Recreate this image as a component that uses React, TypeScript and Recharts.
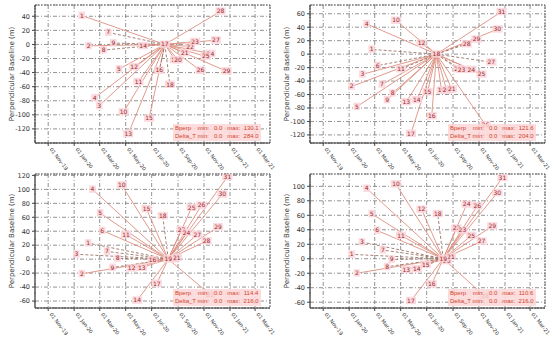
import React from "react";
import { ComposedChart, Scatter, XAxis, YAxis, CartesianGrid, ReferenceArea } from "recharts";

const xTickDates = ["2019-11-01", "2020-01-01", "2020-03-01", "2020-05-01", "2020-07-01", "2020-09-01", "2020-11-01", "2021-01-01", "2021-03-01"];
const xStart = "2019-10-01";
const xEnd = "2021-04-05";
const months = ["Jan", "Feb", "Mar", "Apr", "May", "Jun", "Jul", "Aug", "Sep", "Oct", "Nov", "Dec"];

// panel 1 (top left)
const p1Master = "2020-08-01";
const p1MasterLabel = "17";
const p1Dates = ["2020-01-19", "2020-03-21", "2020-04-02", "2020-02-04", "2020-03-10", "2020-06-11", "2020-04-15", "2020-05-21", "2020-05-31", "2020-02-18", "2020-02-29", "2020-04-26", "2020-05-07", "2020-06-25", "2020-07-19", "2020-08-13", "2020-08-25", "2020-09-01", "2020-09-17", "2020-09-29", "2020-10-11", "2020-11-29", "2020-11-16", "2020-11-05", "2020-10-24", "2020-12-24", "2020-12-10"];
const p1Bperp = [41, 17, 2, -2, -8, -2, -35, -32, -53, -76, -87, -96, -127, -105, -37, -57, -22, -22, -12, -3, 4, 6, -13, -17, -37, -38, 47];
const p1Labels = ["1", "7", "9", "2", "8", "14", "5", "12", "11", "4", "3", "10", "13", "15", "16", "18", "19", "20", "21", "22", "23", "27", "24", "25", "26", "29", "28"];
const p1YTicks = [40, 20, 0, -20, -40, -60, -80, -100, -120];
const p1Stats = ["Bperp    min:   0.0   max:  130.1", "Delta_T min:   0.0   max:  284.0"];

// panel 2 (top right)
const p2Master = "2020-07-24";
const p2MasterLabel = "18";
const p2Dates = ["2020-02-23", "2020-02-11", "2020-04-20", "2020-06-19", "2020-03-08", "2020-02-01", "2020-01-07", "2020-05-02", "2020-03-18", "2020-04-12", "2020-03-30", "2020-01-19", "2020-05-14", "2020-06-08", "2020-07-03", "2020-07-13", "2020-05-25", "2020-08-05", "2020-08-17", "2020-08-29", "2020-09-13", "2020-09-21", "2020-10-14", "2020-11-07", "2020-11-30", "2020-11-16", "2020-10-03", "2020-10-26", "2020-12-14", "2020-12-24"];
const p2Bperp = [7, 45, 50, 16, -17, -30, -48, -22, -45, -58, -68, -78, -71, -68, -56, -92, -118, -54, -54, -52, -22, -23, -23, -30, -12, -105, 15, 22, 37, 63];
const p2Labels = ["1", "4", "10", "12", "6", "3", "2", "11", "7", "8", "9", "5", "13", "14", "15", "16", "17", "19", "20", "21", "22", "23", "24", "25", "27", "26", "28", "29", "30", "31"];
const p2YTicks = [60, 40, 20, 0, -20, -40, -60, -80, -100, -120];
const p2Stats = ["Bperp    min:   0.0   max:  121.6", "Delta_T min:   0.0   max:  204.0"];

// panel 3 (bottom left)
const p3Master = "2020-08-09";
const p3MasterLabel = "19";
const p3Dates = ["2020-02-03", "2020-01-06", "2020-02-13", "2020-03-02", "2020-03-07", "2020-03-18", "2020-04-12", "2020-01-19", "2020-03-31", "2020-04-22", "2020-05-02", "2020-05-15", "2020-06-08", "2020-05-28", "2020-06-19", "2020-07-03", "2020-07-13", "2020-07-27", "2020-08-21", "2020-08-29", "2020-09-09", "2020-09-21", "2020-10-03", "2020-10-26", "2020-10-16", "2020-11-07", "2020-12-04", "2020-12-14", "2020-12-26", "2020-11-16"];
const p3Bperp = [23, 7, 100, 66, 41, 11, 1, -21, -12, 106, 35, -13, -12, -59, 72, -1, -35, 62, 0, 2, 42, 38, 74, 77, 35, 26, 46, 93, 118, -51];
const p3Labels = ["1", "3", "4", "5", "6", "7", "8", "2", "9", "10", "11", "12", "13", "14", "15", "16", "17", "18", "20", "21", "23", "24", "25", "26", "27", "28", "29", "30", "31", "22"];
const p3YTicks = [120, 100, 80, 60, 40, 20, 0, -20, -40, -60];
const p3Stats = ["Bperp    min:   0.0   max:  114.4", "Delta_T min:   0.0   max:  216.0"];

// panel 4 (bottom right)
const p4Master = "2020-08-09";
const p4MasterLabel = "19";
const p4Dates = ["2020-01-07", "2020-02-11", "2020-01-31", "2020-02-23", "2020-03-07", "2020-03-20", "2020-04-10", "2020-01-19", "2020-03-30", "2020-04-20", "2020-05-02", "2020-06-19", "2020-05-14", "2020-06-08", "2020-06-29", "2020-07-13", "2020-05-25", "2020-07-27", "2020-08-17", "2020-08-27", "2020-09-09", "2020-09-23", "2020-10-03", "2020-10-14", "2020-10-28", "2020-11-07", "2020-11-15", "2020-12-02", "2020-12-14", "2020-12-26"];
const p4Bperp = [6, 97, 23, 62, 39, 12, -1, -20, -11, 103, 32, 68, -15, -14, -8, -35, -58, 62, -3, 3, 42, 39, 75, 32, 73, 24, -52, 45, 91, 112];
const p4Labels = ["1", "4", "3", "5", "6", "7", "9", "2", "8", "10", "11", "12", "13", "14", "15", "16", "17", "18", "20", "21", "22", "23", "24", "25", "26", "27", "28", "29", "30", "31"];
const p4YTicks = [100, 80, 60, 40, 20, 0, -20, -40, -60];
const p4Stats = ["Bperp    min:   0.0   max:  110.6", "Delta_T min:   0.0   max:  216.0"];

const toT = (s: string) => Date.parse(s + "T00:00:00Z");

const fmtDate = (t: number) => {
  const d = new Date(t);
  return "01 " + months[d.getUTCMonth()] + "-" + String(d.getUTCFullYear()).slice(2);
};

const FONT = "DejaVu Sans";
const LINE = "#dc9080";
const DASH = "#9a7468";

const DateTick = (props: any) => {
  const { x, y, payload } = props;
  const ty = y + 1.5;
  return (
    <text x={x + 1} y={ty} transform={`rotate(52 ${x + 1} ${ty})`} fontSize={5.2} fontFamily={FONT} fill="#333" textAnchor="start">
      {fmtDate(payload.value)}
    </text>
  );
};

const PointLabel = (props: any) => {
  const { cx, cy, payload } = props;
  if (cx == null || cy == null) return <g />;
  const txt = payload.label as string;
  const w = txt.length * 3.6 + 3;
  return (
    <g>
      <rect x={cx - w / 2} y={cy - 4} width={w} height={7.5} fill="#fbd5da" opacity={0.85} />
      <text x={cx} y={cy + 2} fontSize={6} fontFamily={FONT} fill="#9a2a2a" textAnchor="middle">
        {txt}
      </text>
    </g>
  );
};

function BaselinePanel({ master, masterLabel, dates, bperp, labels, yDomain, yTicks, stats, dashed, bottomRow }: any) {
  const mt = toT(master);
  const slaves = dates.map((d: string, i: number) => ({ t: toT(d), b: bperp[i], label: labels[i] }));
  const points = [...slaves, { t: mt, b: 0, label: masterLabel }];
  const top = bottomRow ? 3 : 5;
  const xh = bottomRow ? 34 : 28;
  const plotTop = top;
  const plotBottom = 171 - xh;
  return (
    <div style={{ position: "relative", width: 275, height: 171 }}>
      <ComposedChart width={275} height={171} margin={{ top, right: 5, bottom: 0, left: 10 }}>
        <CartesianGrid stroke="#777" strokeDasharray="4 2 1 2" strokeWidth={0.8} />
        <XAxis
          dataKey="t"
          type="number"
          domain={[toT(xStart), toT(xEnd)]}
          ticks={xTickDates.map(toT)}
          tick={<DateTick />}
          tickSize={3}
          height={xh}
          allowDataOverflow
          stroke="#444"
          interval={0}
        />
        <YAxis
          dataKey="b"
          type="number"
          domain={yDomain}
          ticks={yTicks}
          width={25}
          tickSize={3}
          allowDataOverflow
          stroke="#444"
          interval={0}
          tick={{ fontSize: 6.5, fontFamily: FONT, fill: "#333" }}
        />
        <ReferenceArea x1={toT(xStart)} x2={toT(xEnd)} y1={yDomain[0]} y2={yDomain[1]} fill="none" stroke="#555" strokeDasharray="2 1" strokeWidth={0.8} />
        {slaves.map((s: any, i: number) => {
          const isDash = dashed.includes(i);
          return (
            <Scatter
              key={i}
              data={[{ t: mt, b: 0 }, s]}
              line={{ stroke: isDash ? DASH : LINE, strokeWidth: 0.9, strokeDasharray: isDash ? "3 2" : undefined }}
              shape={() => <g />}
              isAnimationActive={false}
            />
          );
        })}
        <Scatter data={points} shape={(p: any) => <PointLabel {...p} />} isAnimationActive={false} />
      </ComposedChart>
      <div
        style={{
          position: "absolute",
          left: 12,
          top: (plotTop + plotBottom) / 2,
          transform: "translate(-50%, -50%) rotate(-90deg)",
          whiteSpace: "nowrap",
          fontFamily: FONT,
          fontSize: 7,
          color: "#333",
        }}
      >
        Perpendicular Baseline (m)
      </div>
      <div
        style={{
          position: "absolute",
          left: 173,
          top: plotBottom - 19,
          background: "rgba(252,214,214,0.85)",
          color: "#d2462e",
          fontFamily: "Liberation Sans",
          fontSize: 6,
          lineHeight: "7.5px",
          whiteSpace: "pre",
          padding: "1px 2px",
        }}
      >
        {stats[0]}
        {"\n"}
        {stats[1]}
      </div>
    </div>
  );
}

export default function App() {
  return (
    <div style={{ position: "absolute", left: 0, top: 0, width: 550, height: 342, background: "#fff", overflow: "hidden", display: "grid", gridTemplateColumns: "275px 275px", gridTemplateRows: "171px 171px" }}>
      <BaselinePanel master={p1Master} masterLabel={p1MasterLabel} dates={p1Dates} bperp={p1Bperp} labels={p1Labels} yDomain={[-140, 56]} yTicks={p1YTicks} stats={p1Stats} dashed={[1, 2, 4, 14, 15]} bottomRow={false} />
      <BaselinePanel master={p2Master} masterLabel={p2MasterLabel} dates={p2Dates} bperp={p2Bperp} labels={p2Labels} yDomain={[-132, 73]} yTicks={p2YTicks} stats={p2Stats} dashed={[0, 4, 7, 20, 21, 24, 26, 27]} bottomRow={false} />
      <BaselinePanel master={p3Master} masterLabel={p3MasterLabel} dates={p3Dates} bperp={p3Bperp} labels={p3Labels} yDomain={[-70, 122]} yTicks={p3YTicks} stats={p3Stats} dashed={[0, 1, 5, 6, 8, 17]} bottomRow={true} />
      <BaselinePanel master={p4Master} masterLabel={p4MasterLabel} dates={p4Dates} bperp={p4Bperp} labels={p4Labels} yDomain={[-68, 117]} yTicks={p4YTicks} stats={p4Stats} dashed={[0, 2, 5, 6, 8, 12, 13, 17]} bottomRow={true} />
    </div>
  );
}
